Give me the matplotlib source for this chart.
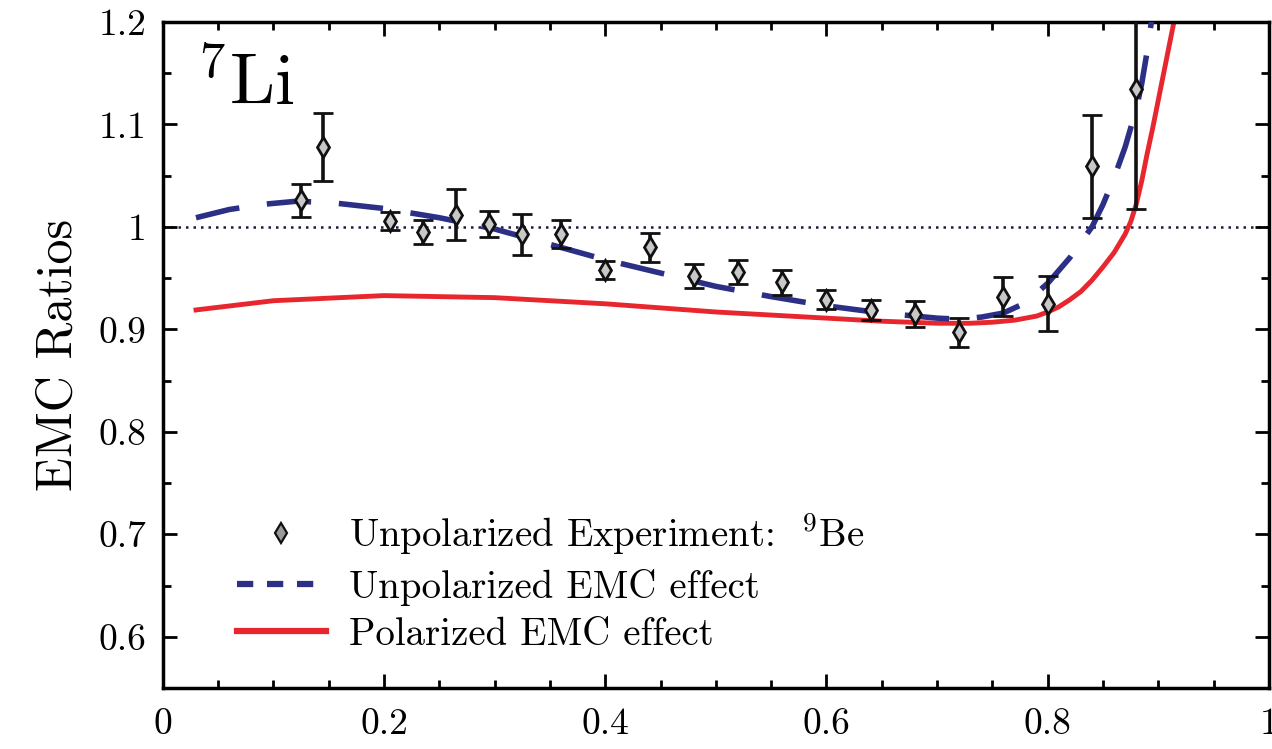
import matplotlib
matplotlib.use("Agg")
import matplotlib.pyplot as plt
from matplotlib.ticker import MultipleLocator
from matplotlib.lines import Line2D

plt.rcParams['font.family'] = ['cmr10', 'DejaVu Serif']
plt.rcParams['mathtext.fontset'] = 'cm'
plt.rcParams['axes.formatter.use_mathtext'] = True

# Experimental data (9Be)
exp_x = [0.125, 0.145, 0.205, 0.235, 0.265, 0.295, 0.325, 0.36, 0.40, 0.44,
         0.48, 0.52, 0.56, 0.60, 0.64, 0.68, 0.72, 0.76, 0.80, 0.84, 0.88]
exp_y = [1.026, 1.078, 1.006, 0.995, 1.012, 1.003, 0.993, 0.993, 0.958, 0.980,
         0.952, 0.956, 0.946, 0.929, 0.919, 0.915, 0.897, 0.932, 0.925, 1.059, 1.135]
exp_err = [0.016, 0.033, 0.009, 0.012, 0.025, 0.013, 0.020, 0.014, 0.009, 0.014,
           0.012, 0.012, 0.012, 0.009, 0.010, 0.013, 0.014, 0.019, 0.027, 0.050, 0.117]

# Unpolarized EMC effect (dashed)
unpol_x = [0.03, 0.06, 0.09, 0.12, 0.15, 0.20, 0.25, 0.30, 0.35, 0.40, 0.45, 0.50,
           0.55, 0.60, 0.65, 0.70, 0.72, 0.74, 0.76, 0.78, 0.80, 0.82, 0.84, 0.85,
           0.86, 0.87, 0.88, 0.885, 0.89, 0.895]
unpol_y = [1.009, 1.017, 1.022, 1.025, 1.024, 1.018, 1.009, 0.998, 0.983, 0.968,
           0.955, 0.942, 0.932, 0.923, 0.916, 0.911, 0.910, 0.912, 0.916, 0.926,
           0.945, 0.970, 1.000, 1.022, 1.048, 1.078, 1.115, 1.140, 1.172, 1.21]

# Polarized EMC effect (solid)
pol_x = [0.03, 0.10, 0.20, 0.30, 0.40, 0.50, 0.60, 0.65, 0.70, 0.73, 0.75, 0.77,
         0.79, 0.80, 0.81, 0.82, 0.83, 0.84, 0.85, 0.86, 0.87, 0.875, 0.88,
         0.885, 0.89, 0.895, 0.90, 0.905, 0.91, 0.915]
pol_y = [0.919, 0.928, 0.933, 0.931, 0.925, 0.917, 0.911, 0.908, 0.906, 0.906,
         0.907, 0.909, 0.913, 0.917, 0.922, 0.929, 0.937, 0.948, 0.961, 0.975,
         0.993, 1.005, 1.022, 1.045, 1.072, 1.097, 1.124, 1.151, 1.178, 1.205]

navy = '#2b2f86'
red = '#e8262e'

fig = plt.figure(figsize=(12.72, 7.49), dpi=100)
ax = fig.add_axes([0.128, 0.0814, 0.8696, 0.8892])

ax.axhline(1.0, color='#1a1a40', lw=1.8, dashes=(1, 2.0), zorder=1)
ax.plot(pol_x, pol_y, color=red, lw=3.5, zorder=2)
ax.plot(unpol_x, unpol_y, color=navy, lw=4, dashes=(8, 5), zorder=3)
ax.errorbar(exp_x, exp_y, yerr=exp_err, fmt='d', color='#111111', ms=10,
            mfc='#c8c8c8', mec='#111111', mew=2, elinewidth=2.6, capsize=7,
            capthick=2.6, zorder=4)

ax.set_xlim(0, 1)
ax.set_ylim(0.55, 1.2)
ax.xaxis.set_minor_locator(MultipleLocator(0.05))
ax.yaxis.set_minor_locator(MultipleLocator(0.05))
ax.set_yticks([0.6, 0.7, 0.8, 0.9, 1.0, 1.1, 1.2])
ax.set_yticklabels(['0.6', '0.7', '0.8', '0.9', '1', '1.1', '1.2'])
ax.set_xticks([0, 0.2, 0.4, 0.6, 0.8, 1.0])
ax.set_xticklabels(['0', '0.2', '0.4', '0.6', '0.8', '1'])
ax.tick_params(which='both', direction='in', top=True, right=True, labelsize=27,
               width=2)
ax.tick_params(which='major', length=10)
ax.tick_params(which='minor', length=6)
ax.tick_params(axis='x', pad=14)
ax.tick_params(axis='y', pad=12)
for s in ax.spines.values():
    s.set_linewidth(2.5)

ax.set_ylabel('EMC Ratios', fontsize=36, labelpad=12)
ax.text(0.03, 0.955, r'$^{7}$Li', transform=ax.transAxes, fontsize=52,
        va='top', ha='left')

handles = [
    Line2D([], [], marker='d', ls='none', ms=10, mfc='#9a9a9a', mec='#111111', mew=1.6),
    Line2D([], [], color=navy, lw=4.5, dashes=(2.6, 2.2)),
    Line2D([], [], color=red, lw=4.5),
]
labels = ['Unpolarized Experiment:  $^{9}$Be', 'Unpolarized EMC effect',
          'Polarized EMC effect']
ax.legend(handles, labels, loc='lower left', bbox_to_anchor=(0.035, 0.0),
          frameon=False, fontsize=28, handlelength=2.3, handletextpad=0.6,
          labelspacing=0.3)

fig.savefig('out.png', dpi=100)
